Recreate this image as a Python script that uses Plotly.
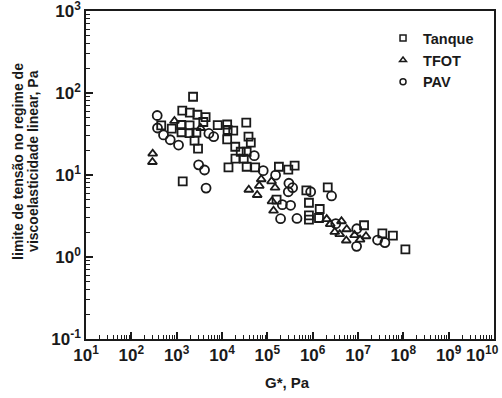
import plotly.graph_objects as go

# Tanque (squares)
tanque_g = [2.30e3, 1.33e3, 1.95e3, 2.86e3, 4.35e3, 3.87e3, 456, 780, 1.26e3, 1.93e3,
            1.28e3, 1.92e3, 2.72e3, 2.48e3, 2.96e3, 1.36e3, 8.04e3, 1.30e4, 1.33e4, 1.77e4,
            3.43e4, 1.30e4, 3.84e4, 4.32e4, 1.96e4, 2.59e4, 3.50e4, 1.98e4, 3.02e4, 1.39e4,
            3.50e4, 5.40e4, 1.80e5, 2.90e5, 4.00e5, 7.26e5, 2.15e6, 1.60e5, 8.28e5, 1.43e6,
            8.28e5, 8.28e5, 1.38e6, 1.36e7, 3.45e7, 5.89e7, 1.11e8]
tanque_t = [90, 60.8, 57.5, 54.3, 50.9, 44.3, 40.4, 36.7, 40.7, 40.4,
            33.2, 32.5, 32.8, 26.2, 21.0, 8.34, 40.5, 41.3, 35.4, 34.7,
            43.6, 27.2, 29.3, 24.8, 22.1, 19.2, 19.2, 15.8, 15.8, 12.4,
            12.6, 12.4, 12.6, 11.6, 13.0, 6.50, 7.08, 5.00, 4.59, 3.85,
            3.21, 2.85, 2.99, 2.44, 1.94, 1.82, 1.24]

# TFOT (triangles)
tfot_g = [296, 292, 893, 3.38e3, 7.33e4, 1.24e5, 6.65e4, 1.48e5, 3.90e4, 5.98e4,
          1.27e5, 1.37e5, 2.04e6, 2.44e6, 4.32e6, 3.07e6, 3.95e6, 5.51e6, 8.41e6, 1.11e7,
          1.50e7, 5.65e6]
tfot_t = [18.2, 14.4, 45.6, 37.4, 8.88, 8.38, 7.38, 7.00, 6.61, 5.70,
          4.78, 3.67, 2.90, 2.52, 2.73, 2.02, 1.90, 1.59, 1.85, 1.63,
          1.79, 2.18]

# PAV (circles)
pav_g = [372, 378, 513, 721, 1.10e3, 5.13e3, 6.55e3, 3.05e3, 4.12e3, 4.45e3,
         5.15e4, 8.11e4, 1.52e5, 2.99e5, 3.61e5, 2.90e5, 9.04e5, 2.61e6, 2.14e5, 3.26e5,
         1.96e5, 4.50e5, 3.23e6, 9.40e6, 9.31e6, 2.70e7, 3.92e7]
pav_t = [53.2, 37.4, 30.8, 26.9, 23.2, 32.1, 29.3, 13.3, 11.5, 6.93,
         17.2, 11.3, 9.95, 7.93, 7.00, 6.25, 6.25, 5.55, 4.35, 4.27,
         2.93, 2.95, 2.55, 2.21, 1.35, 1.61, 1.50]

# tick labels
x_exponents = [1, 2, 3, 4, 5, 6, 7, 8, 9, 10]
y_exponents = [-1, 0, 1, 2, 3]
x_ticktext = [f"10<sup>{e}</sup>" for e in x_exponents]
x_ticktext[-1] = x_ticktext[-1] + "\u00a0" * 5  # nudge last label inside the page
y_ticktext = [f"10<sup>{e}</sup>" for e in y_exponents]
minor_mult = [2, 3, 4, 5, 6, 7, 8, 9]

x_title = "G*, Pa"
y_title_lines = ["limite de tensão no regime de", "viscoelasticidade linear, Pa"]

series = [
    ("Tanque", tanque_g, tanque_t, "square-open", 8),
    ("TFOT", tfot_g, tfot_t, "triangle-up-open", 8),
    ("PAV", pav_g, pav_t, "circle-open", 9),
]

INK = "#1a1a1a"
FONT = "Liberation Sans, Arial, sans-serif"

fig = go.Figure()
for name, gx, ty, sym, sz in series:
    fig.add_trace(go.Scatter(
        x=gx, y=ty, mode="markers", name=name, showlegend=False,
        marker=dict(symbol=sym, size=sz, color=INK, line=dict(width=1.8, color=INK)),
    ))
for name, gx, ty, sym, sz in series:
    fig.add_trace(go.Scatter(
        x=[None], y=[None], mode="markers", name=name, showlegend=True,
        marker=dict(symbol=sym, size=6, color=INK, line=dict(width=1.5, color=INK)),
    ))


def minor_vals(exps):
    return [m * 10.0 ** e for e in exps[:-1] for m in minor_mult]


axis_common = dict(
    type="log", showgrid=False, zeroline=False, automargin=False,
    showline=True, linecolor=INK, linewidth=1.6, mirror=True,
    ticks="inside", ticklen=7, tickwidth=1.5, tickcolor=INK,
    ticklabeloverflow="allow",
    tickfont=dict(family=FONT, size=17, color=INK, weight="bold"),
)

fig.update_xaxes(range=[1, 10], tickvals=[10.0 ** e for e in x_exponents],
                 ticktext=x_ticktext,
                 minor=dict(ticks="inside", ticklen=4, tickwidth=1, tickcolor=INK,
                            showgrid=False, tickvals=minor_vals(x_exponents)),
                 **axis_common)
fig.update_yaxes(range=[-1, 3], tickvals=[10.0 ** e for e in y_exponents],
                 ticktext=y_ticktext,
                 minor=dict(ticks="inside", ticklen=4, tickwidth=1, tickcolor=INK,
                            showgrid=False, tickvals=minor_vals(y_exponents)),
                 **axis_common)

title_font = dict(family=FONT, size=15, color=INK, weight="bold")
fig.add_annotation(text=x_title, xref="paper", yref="paper", x=0.493, y=-0.134,
                   showarrow=False, font=title_font, xanchor="center", yanchor="middle")
for xp, line in zip([-0.1667, -0.1299], y_title_lines):
    fig.add_annotation(text=line, xref="paper", yref="paper", x=xp, y=0.543,
                       textangle=-90, showarrow=False,
                       font=dict(family=FONT, size=14, color=INK, weight="bold"),
                       xanchor="center", yanchor="middle")

fig.update_layout(
    width=502, height=398,
    margin=dict(l=86, r=8, t=11, b=59),
    paper_bgcolor="white", plot_bgcolor="white",
    legend=dict(x=0.728, y=0.966, xanchor="left", yanchor="top",
                bgcolor="rgba(0,0,0,0)", borderwidth=0,
                font=dict(family=FONT, size=14.5, color=INK, weight="bold"),
                itemwidth=30, tracegroupgap=0),
)

fig.write_html("out.html", config={"displayModeBar": False},
               post_script="document.body.style.margin='0px';")
